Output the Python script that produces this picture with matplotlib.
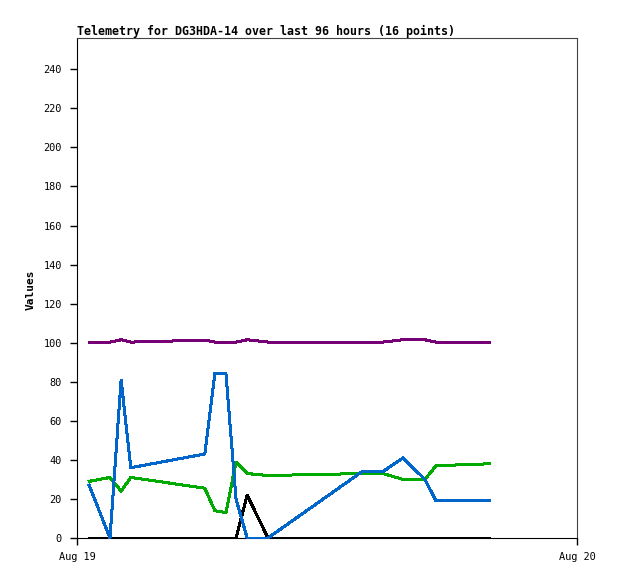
import matplotlib
matplotlib.use("Agg")
import matplotlib.pyplot as plt
import matplotlib.dates as mdates
import pandas as pd

# ─── DATA ──────────────────────────────────────────────────────────────────
TITLE = "Telemetry for DG3HDA-14 over last 96 hours (16 points)"

TIMES = [
    "2024-08-19 00:35", "2024-08-19 01:35", "2024-08-19 02:07", "2024-08-19 02:35",
    "2024-08-19 06:08", "2024-08-19 06:37", "2024-08-19 07:09", "2024-08-19 07:38",
    "2024-08-19 08:10", "2024-08-19 09:10", "2024-08-19 13:41", "2024-08-19 14:41",
    "2024-08-19 15:39", "2024-08-19 16:42", "2024-08-19 17:14", "2024-08-19 19:47",
]

purple_vals = [100.3, 100.3, 101.5, 100.3, 101.3, 100.3, 100.3, 100.3,
               101.5, 100.3, 100.3, 100.3, 101.5, 101.5, 100.3, 100.3]
green_vals  = [29, 31, 24, 31, 25.5, 14, 13, 39,
               33, 32, 33, 33, 30, 30, 37, 38]
black_vals  = [0, 0, 0, 0, 0, 0, 0, 0,
               22, 0, 0, 0, 0, 0, 0, 0]
blue_vals   = [27, 0, 81, 36, 43, 84, 84, 20,
               0, 0, 34, 34, 41, 30, 19, 19]

Y_TICKS = list(range(0, 241, 20))
X_START = "2024-08-19"
X_END   = "2024-08-20"

# ─── PLOT ──────────────────────────────────────────────────────────────────
plt.rcParams.update({
    "font.family": "DejaVu Sans Mono",
})

times = pd.to_datetime(TIMES)

fig = plt.figure(figsize=(6.18, 5.79), dpi=100)
ax = fig.add_axes([77/618, 41/579, 500/618, 500/579])

series = [
    (purple_vals, "#770077"),
    (green_vals,  "#00aa00"),
    (black_vals,  "#000000"),
    (blue_vals,   "#0066cc"),
]
for i, (vals, col) in enumerate(series):
    # unclipped + above spines so the zero-valued stretches stay visible
    ax.plot(times, vals, color=col, linewidth=1.44, antialiased=False,
            solid_joinstyle="miter", clip_on=False, zorder=3 + i * 0.1)

ax.set_xlim(pd.Timestamp(X_START), pd.Timestamp(X_END))
ax.set_ylim(0, 256)
ax.set_yticks(Y_TICKS)
ax.set_xticks([pd.Timestamp(X_START), pd.Timestamp(X_END)])
ax.xaxis.set_major_formatter(mdates.DateFormatter("%b %d"))

ax.tick_params(axis="both", direction="out", length=5, width=1,
               labelsize=7.4, colors="black")
ax.tick_params(axis="y", pad=6)
ax.tick_params(axis="x", pad=5)

for side in ["left", "bottom"]:
    ax.spines[side].set_color("black")
for side in ["top", "right"]:
    ax.spines[side].set_color("#444444")

ax.set_title(TITLE, loc="left", fontsize=8.35, fontweight="bold", pad=2)
ax.set_ylabel("Values", fontsize=8, fontweight="bold")
ax.yaxis.set_label_coords(-0.082, 0.496)

fig.savefig("out.png", dpi=100)
